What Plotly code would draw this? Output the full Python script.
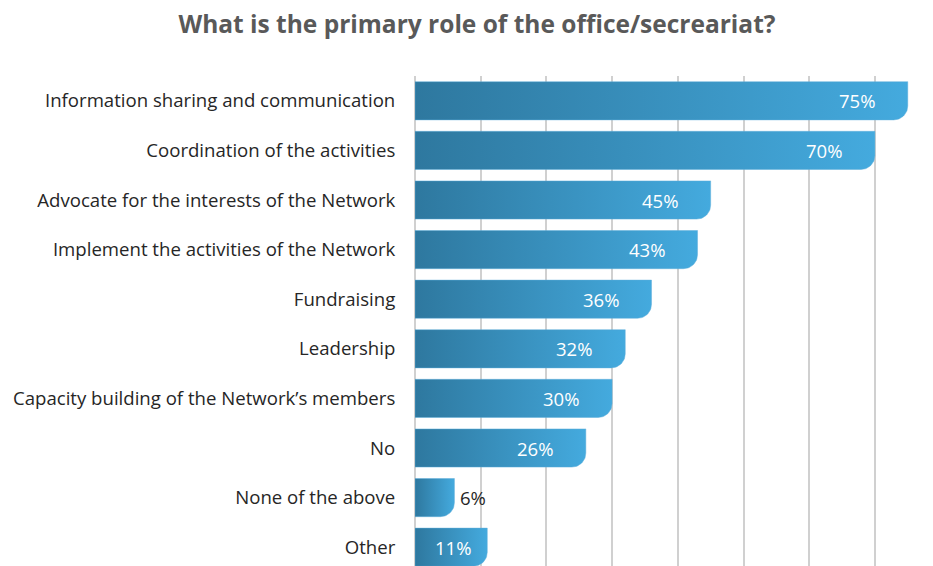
import numpy as np
import plotly.graph_objects as go

# Survey answers, top to bottom
categories = [
    "Information sharing and communication",
    "Coordination of the activities",
    "Advocate for the interests of the Network",
    "Implement the activities of the Network",
    "Fundraising",
    "Leadership",
    "Capacity building of the Network\u2019s members",
    "No",
    "None of the above",
    "Other",
]
shares = [75, 70, 45, 43, 36, 32, 30, 26, 6, 11]
share_labels = [f"{v}%" for v in shares]
grid_ticks = [0, 10, 20, 30, 40, 50, 60, 70]

W, H = 933, 566
M_L, M_R, M_T, M_B = 415, 0, 76, 0
X_MAX = 78.84
Y_RANGE = [9.379, -0.5]

plot_w = W - M_L - M_R
plot_h = H - M_T - M_B
px_per_x = plot_w / X_MAX
px_per_y = plot_h / (Y_RANGE[0] - Y_RANGE[1])

BAR_FRAC = 0.77      # bar thickness relative to category slot
CORNER_PX = 14       # radius of the rounded bottom-right corner
GRAD = [[0, "#2e789f"], [1, "#44aade"]]


def bar_outline(value, yc):
    """Outline of a bar with a rounded bottom-right corner, in data units."""
    h = BAR_FRAC / 2
    r_px = min(CORNER_PX, value * px_per_x * 0.45)
    rx = r_px / px_per_x
    ry = r_px / px_per_y
    top, bot = yc - h, yc + h
    t = np.linspace(0, np.pi / 2, 16)
    arc_x = (value - rx) + rx * np.cos(t)
    arc_y = (bot - ry) + ry * np.sin(t)
    xs = [0, value, *arc_x, 0, 0]
    ys = [top, top, *arc_y, bot, top]
    return xs, ys


fig = go.Figure()
for i, v in enumerate(shares):
    xs, ys = bar_outline(v, i)
    fig.add_trace(go.Scatter(
        x=xs, y=ys, mode="lines", fill="toself",
        line=dict(width=0.8, color="rgba(95,175,220,0.6)"),
        fillgradient=dict(type="horizontal", colorscale=GRAD, start=0, stop=v),
        hoverinfo="skip", showlegend=False,
    ))

# Value labels: inside the bar end when it fits, otherwise just outside
for i, (v, lab) in enumerate(zip(shares, share_labels)):
    bar_px = v * px_per_x
    if bar_px > 100:
        x, anchor, color = v - 31 / px_per_x, "right", "white"
    elif bar_px > 55:
        x, anchor, color = v - 14 / px_per_x, "right", "white"
    else:
        x, anchor, color = v + 4 / px_per_x, "left", "#262626"
    fig.add_annotation(
        x=x, y=i, text=lab, showarrow=False, xanchor=anchor, yanchor="middle",
        font=dict(family="Open Sans", size=18.5, color=color),
    )

fig.update_layout(
    width=W, height=H,
    margin=dict(l=M_L, r=M_R, t=M_T, b=M_B, pad=0),
    paper_bgcolor="white", plot_bgcolor="white",
    title=dict(
        text="<b>What is the primary role of the office/secreariat?</b>",
        x=477 / W, xanchor="center", y=1 - 24 / H, yanchor="middle",
        font=dict(family="Open Sans", size=24.5, color="#595959"),
    ),
    xaxis=dict(
        range=[0, X_MAX], tickvals=grid_ticks, showticklabels=False,
        showgrid=True, gridcolor="#d0d0d0", gridwidth=1.5,
        zeroline=True, zerolinecolor="#d0d0d0", zerolinewidth=1.5,
        showline=False, fixedrange=True,
    ),
    yaxis=dict(
        range=Y_RANGE, tickvals=list(range(len(categories))), ticktext=categories,
        showgrid=False, zeroline=False, showline=False,
        ticks="outside", ticklen=15, tickcolor="rgba(0,0,0,0)",
        tickfont=dict(family="Open Sans", size=18.6, color="#262626"),
        fixedrange=True,
    ),
)

fig.write_html("out.html")
